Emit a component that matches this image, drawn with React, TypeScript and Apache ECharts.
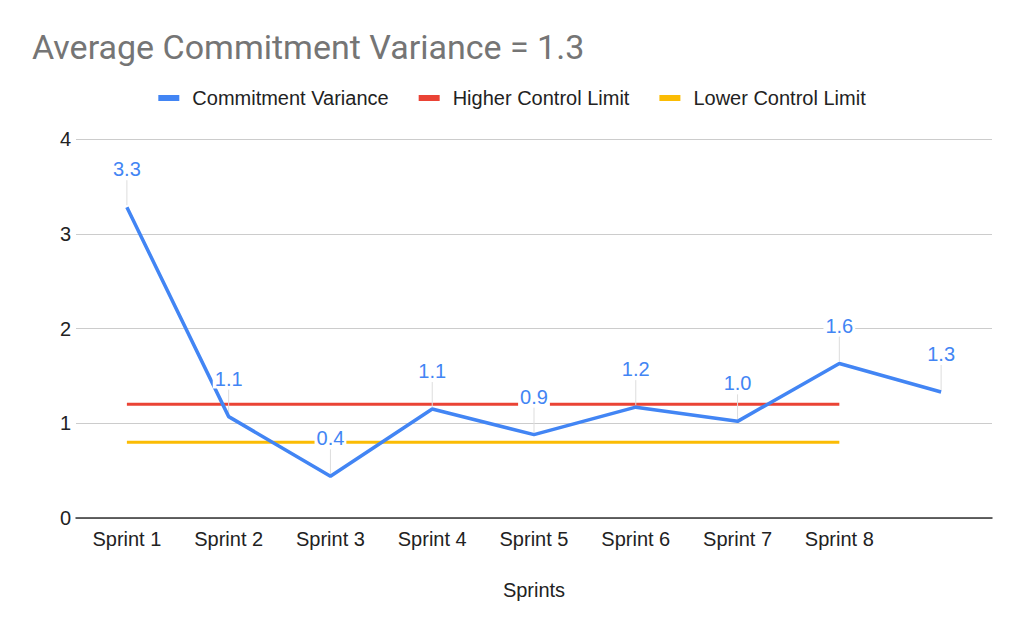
import React, { useEffect, useRef } from "react";
import * as echarts from "echarts";

const categories = ["Sprint 1", "Sprint 2", "Sprint 3", "Sprint 4", "Sprint 5", "Sprint 6", "Sprint 7", "Sprint 8", ""];
const variance = [3.28, 1.07, 0.44, 1.15, 0.88, 1.17, 1.02, 1.63, 1.33];
const varianceLabels = ["3.3", "1.1", "0.4", "1.1", "0.9", "1.2", "1.0", "1.6", "1.3"];
const higherLimit = [1.2, 1.2, 1.2, 1.2, 1.2, 1.2, 1.2, 1.2, null];
const lowerLimit = [0.8, 0.8, 0.8, 0.8, 0.8, 0.8, 0.8, 0.8, null];
const yTicks = [0, 1, 2, 3, 4];

const BLUE = "#4285F4";
const RED = "#EA4335";
const YELLOW = "#FBBC04";
const FONT = "Liberation Sans";

export default function App() {
  const ref = useRef<HTMLDivElement>(null);
  useEffect(() => {
    document.body.style.margin = "0";
    const chart = echarts.init(ref.current!, null, { renderer: "svg" });
    chart.setOption({
      animation: false,
      backgroundColor: "#fff",
      title: {
        text: "Average Commitment Variance = 1.3",
        left: 27,
        top: 25,
        textStyle: { fontFamily: "Roboto", fontWeight: "normal", fontSize: 34, color: "#757575" },
      },
      legend: {
        top: 83,
        left: "center",
        icon: "rect",
        itemWidth: 21,
        itemHeight: 6,
        itemGap: 30,
        textStyle: { fontFamily: FONT, fontSize: 20, color: "#222", padding: [0, 0, 0, 8] },
        data: ["Commitment Variance", "Higher Control Limit", "Lower Control Limit"],
      },
      grid: { left: 76, right: 32, top: 139, bottom: 115 },
      xAxis: {
        type: "category",
        data: categories,
        boundaryGap: true,
        name: "Sprints",
        nameLocation: "middle",
        nameGap: 62,
        nameTextStyle: { fontFamily: FONT, fontSize: 20, color: "#222" },
        axisLine: { lineStyle: { color: "#333", width: 1.5 } },
        axisTick: { show: false },
        axisLabel: { fontFamily: FONT, fontSize: 20, color: "#222", margin: 11, interval: 0 },
      },
      yAxis: {
        type: "value",
        min: yTicks[0],
        max: yTicks[yTicks.length - 1],
        interval: 1,
        axisLine: { show: false },
        axisTick: { show: false },
        axisLabel: { fontFamily: FONT, fontSize: 20, color: "#222", margin: 5 },
        splitLine: { lineStyle: { color: "#cccccc", width: 1 } },
      },
      series: [
        {
          name: "Higher Control Limit",
          type: "line",
          data: higherLimit,
          symbol: "none",
          lineStyle: { color: RED, width: 3 },
          itemStyle: { color: RED },
          z: 2,
        },
        {
          name: "Lower Control Limit",
          type: "line",
          data: lowerLimit,
          symbol: "none",
          lineStyle: { color: YELLOW, width: 3 },
          itemStyle: { color: YELLOW },
          z: 2,
        },
        {
          name: "Leaders",
          type: "custom",
          data: variance.map((v, i) => [i, v]),
          z: 3,
          silent: true,
          renderItem: (params: any, api: any) => {
            const p = api.coord([api.value(0), api.value(1)]);
            return {
              type: "line",
              shape: { x1: p[0], y1: p[1] - 2, x2: p[0], y2: p[1] - 27 },
              style: { stroke: "#dddddd", lineWidth: 1 },
            };
          },
        },
        {
          name: "Commitment Variance",
          type: "line",
          data: variance,
          symbol: "none",
          lineStyle: { color: BLUE, width: 3.5 },
          itemStyle: { color: BLUE },
          z: 4,
        },
        {
          name: "Labels",
          type: "custom",
          data: variance.map((v, i) => [i, v]),
          z: 5,
          silent: true,
          renderItem: (params: any, api: any) => {
            const p = api.coord([api.value(0), api.value(1)]);
            return {
              type: "text",
              x: p[0],
              y: p[1] - 38,
              style: {
                text: varianceLabels[params.dataIndex],
                fill: BLUE,
                fontFamily: FONT,
                fontSize: 20,
                align: "center",
                verticalAlign: "middle",
                backgroundColor: "#fff",
                padding: [0, 2],
              },
            };
          },
        },
      ],
    });
    return () => chart.dispose();
  }, []);
  return <div ref={ref} style={{ width: 1024, height: 633 }} />;
}
